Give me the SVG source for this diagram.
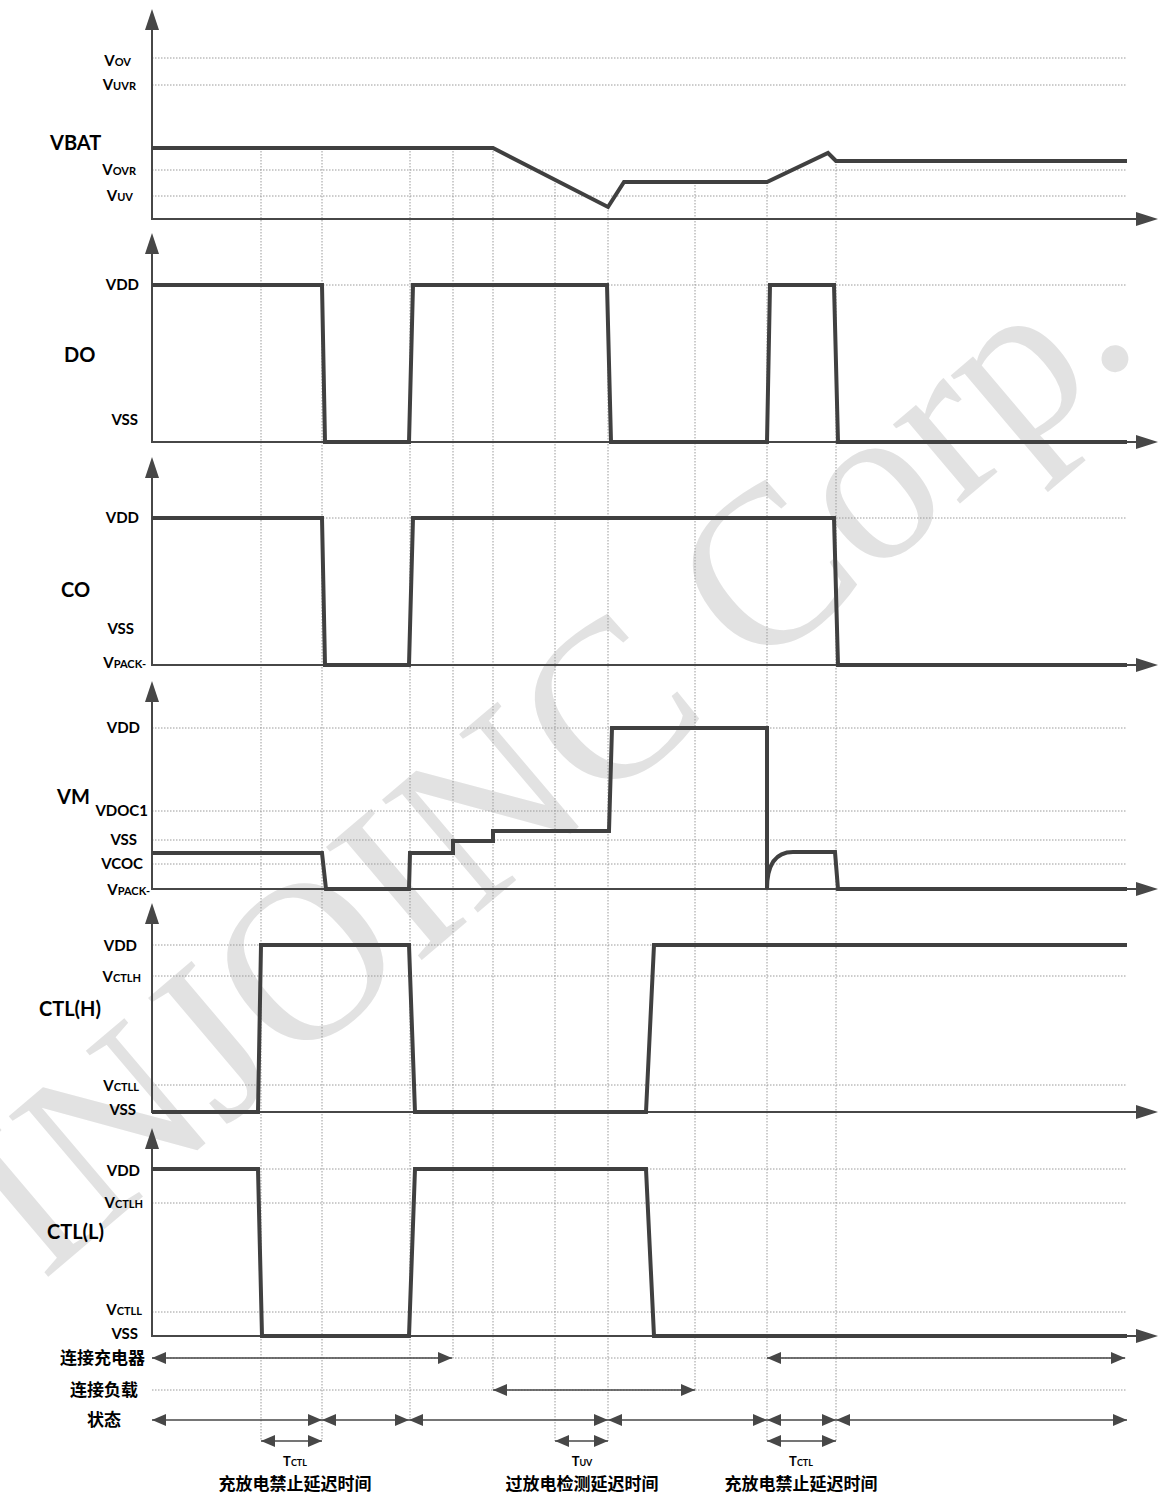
<svg xmlns="http://www.w3.org/2000/svg" width="1173" height="1497" viewBox="0 0 1173 1497">
<style>
.wm{font-family:"Liberation Serif",serif;font-size:226px;fill:#e2e2e2}
.grid{stroke:#9a9a9a;stroke-width:1;stroke-dasharray:1.5 1.5;fill:none}
.axis{stroke:#474747;stroke-width:2;fill:none}
.head{fill:#474747}
.wave{stroke:#404040;stroke-width:4;fill:none;stroke-linejoin:miter}
.row{stroke:#474747;stroke-width:1.5;fill:none;marker-start:url(#ah);marker-end:url(#ah)}
.lbl{font-family:Lato,"Open Sans",sans-serif;font-weight:bold;font-size:15px;fill:#000}
.big{font-family:Lato,"Open Sans",sans-serif;font-weight:bold;font-size:20px;fill:#000}
.sc{font-size:11px}
.cjk{font-family:"Noto Sans CJK SC",sans-serif;font-weight:bold;font-size:17px;fill:#000}
</style>
<defs>
<marker id="ah" markerUnits="userSpaceOnUse" markerWidth="14" markerHeight="12" refX="14" refY="6" orient="auto-start-reverse">
<path d="M0,0 L14,6 L0,12 z" fill="#474747"/>
</marker>
</defs>

<text class="wm" x="42" y="1282" transform="rotate(-40.3 42 1282)">INJOINC Corp.</text>

<g id="grid">
<path class="grid" d="M152,58H1127M152,85H1127M152,170H1127M152,196H1127M152,285H1127M152,518H1127M152,728H1127M152,811H1127M152,840H1127M152,864H1127M152,945H1127M152,976H1127M152,1085H1127M152,1169H1127M152,1203H1127M152,1312H1127M152,1358H1127M152,1390H1127"/>
<path class="grid" d="M261,148V1441M322,148V1441M410,148V1420M453,148V1358M493,148V1390M555,180V1441M608,207V1441M695,182V1390M767,182V1441M836,161V1441"/>
</g>

<g id="axes">
<path class="axis" d="M152,28V219H1138"/>
<polygon class="head" points="152,9 145,30 159,30"/><polygon class="head" points="1158,219 1136,212 1136,226"/>
<path class="axis" d="M152,252V442H1138"/>
<polygon class="head" points="152,233 145,254 159,254"/><polygon class="head" points="1158,442 1136,435 1136,449"/>
<path class="axis" d="M152,476V665H1138"/>
<polygon class="head" points="152,457 145,478 159,478"/><polygon class="head" points="1158,665 1136,658 1136,672"/>
<path class="axis" d="M152,700V889H1138"/>
<polygon class="head" points="152,681 145,702 159,702"/><polygon class="head" points="1158,889 1136,882 1136,896"/>
<path class="axis" d="M152,922V1112H1138"/>
<polygon class="head" points="152,903 145,924 159,924"/><polygon class="head" points="1158,1112 1136,1105 1136,1119"/>
<path class="axis" d="M152,1147V1336H1138"/>
<polygon class="head" points="152,1128 145,1149 159,1149"/><polygon class="head" points="1158,1336 1136,1329 1136,1343"/>
</g>

<g id="VBAT">
<text class="lbl" x="131" y="66" text-anchor="end">V<tspan class="sc">OV</tspan></text>
<text class="lbl" x="136" y="90" text-anchor="end">V<tspan class="sc">UVR</tspan></text>
<text class="big" x="50" y="150">VBAT</text>
<text class="lbl" x="136" y="175" text-anchor="end">V<tspan class="sc">OVR</tspan></text>
<text class="lbl" x="133" y="201" text-anchor="end">V<tspan class="sc">UV</tspan></text>
<path class="wave" d="M152,148H493L608,207L624,182H767L828,153L836,161H1127"/>
</g>

<g id="DO">
<text class="lbl" x="139" y="290" text-anchor="end">VDD</text>
<text class="big" x="64" y="362">DO</text>
<text class="lbl" x="138" y="425" text-anchor="end">VSS</text>
<path class="wave" d="M152,285H322L325,442H409L413,285H607L611,442H767L770,285H834L838,442H1127"/>
</g>

<g id="CO">
<text class="lbl" x="139" y="523" text-anchor="end">VDD</text>
<text class="big" x="61" y="597">CO</text>
<text class="lbl" x="134" y="634" text-anchor="end">VSS</text>
<text class="lbl" x="146" y="668" text-anchor="end">V<tspan class="sc">PACK-</tspan></text>
<path class="wave" d="M152,518H322L325,665H409L413,518H834L838,665H1127"/>
</g>

<g id="VM">
<text class="lbl" x="140" y="733" text-anchor="end">VDD</text>
<text class="big" x="57" y="804">VM</text>
<text class="lbl" x="148" y="816" text-anchor="end">VDOC1</text>
<text class="lbl" x="137" y="845" text-anchor="end">VSS</text>
<text class="lbl" x="143" y="869" text-anchor="end">VCOC</text>
<text class="lbl" x="150" y="895" text-anchor="end">V<tspan class="sc">PACK-</tspan></text>
<path class="wave" d="M152,853H322L326,889H409L410,853H453V841H493V831H609L612,728H767V889C767,865 775,852 793,852H835L838,889H1127"/>
</g>

<g id="CTLH">
<text class="lbl" x="137" y="951" text-anchor="end">VDD</text>
<text class="lbl" x="141" y="982" text-anchor="end">V<tspan class="sc">CTLH</tspan></text>
<text class="big" x="39" y="1016">CTL(H)</text>
<text class="lbl" x="139" y="1091" text-anchor="end">V<tspan class="sc">CTLL</tspan></text>
<text class="lbl" x="136" y="1115" text-anchor="end">VSS</text>
<path class="wave" d="M152,1112H258L261,945H409L415,1112H646L654,945H1127"/>
</g>

<g id="CTLL">
<text class="lbl" x="140" y="1176" text-anchor="end">VDD</text>
<text class="lbl" x="143" y="1208" text-anchor="end">V<tspan class="sc">CTLH</tspan></text>
<text class="big" x="47" y="1239">CTL(L)</text>
<text class="lbl" x="142" y="1315" text-anchor="end">V<tspan class="sc">CTLL</tspan></text>
<text class="lbl" x="138" y="1339" text-anchor="end">VSS</text>
<path class="wave" d="M152,1169H258L262,1336H409L415,1169H646L654,1336H1127"/>
</g>

<g id="rows">
<text class="cjk" x="145" y="1364" text-anchor="end">连接充电器</text>
<text class="cjk" x="138" y="1396" text-anchor="end">连接负载</text>
<text class="cjk" x="121" y="1426" text-anchor="end">状态</text>
</g>

<g id="connectors">
<path class="row" d="M152,1358H452"/>
<path class="row" d="M767,1358H1125"/>
<path class="row" d="M493,1390H695"/>
<path class="row" d="M152,1420H322"/>
<path class="row" d="M322,1420H409"/>
<path class="row" d="M409,1420H608"/>
<path class="row" d="M608,1420H767"/>
<path class="row" d="M767,1420H836"/>
<path class="row" d="M836,1420H1127"/>
<path class="row" d="M261,1441H322"/>
<path class="row" d="M555,1441H608"/>
<path class="row" d="M767,1441H836"/>
</g>

<g id="timings">
<text class="lbl" x="295" y="1466" text-anchor="middle" style="font-size:13px">T<tspan style="font-size:9px">CTL</tspan></text>
<text class="cjk" x="295" y="1490" text-anchor="middle">充放电禁止延迟时间</text>
<text class="lbl" x="582" y="1466" text-anchor="middle" style="font-size:13px">T<tspan style="font-size:9px">UV</tspan></text>
<text class="cjk" x="582" y="1490" text-anchor="middle">过放电检测延迟时间</text>
<text class="lbl" x="801" y="1466" text-anchor="middle" style="font-size:13px">T<tspan style="font-size:9px">CTL</tspan></text>
<text class="cjk" x="801" y="1490" text-anchor="middle">充放电禁止延迟时间</text>
</g>
</svg>
